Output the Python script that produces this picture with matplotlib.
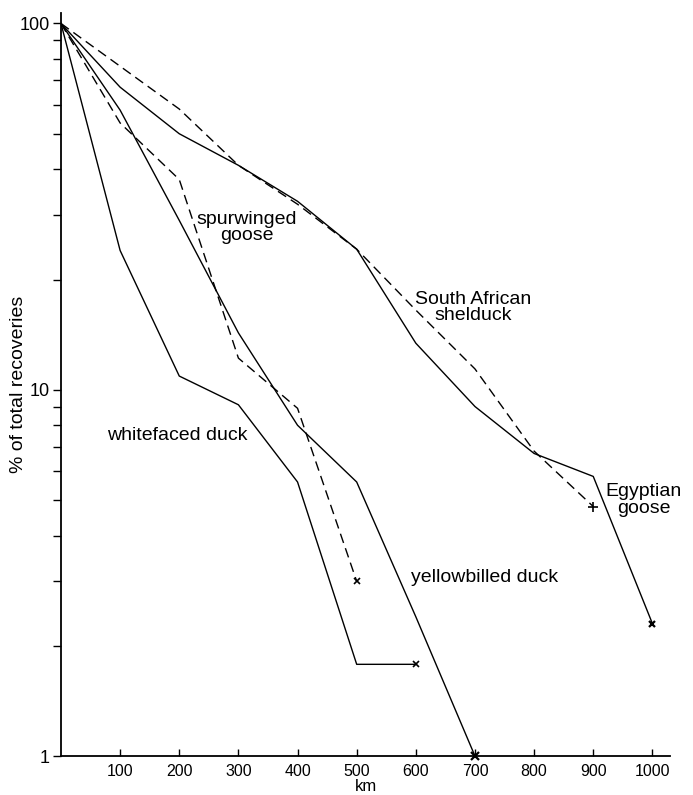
import matplotlib
matplotlib.use("Agg")
import matplotlib.pyplot as plt
from matplotlib.ticker import LogLocator, NullFormatter, FixedLocator

plt.rcParams["font.family"] = ["Liberation Sans", "DejaVu Sans"]

# distance classes (km) and % of total recoveries
whitefaced_km = [0, 100, 200, 300, 400, 500, 600]
whitefaced_pct = [100, 24, 10.9, 9.1, 5.6, 1.78, 1.78]

yellowbilled_km = [0, 100, 200, 300, 400, 500, 600, 700]
yellowbilled_pct = [100, 58, 29, 14.3, 8.0, 5.6, 2.4, 1.0]

spurwinged_km = [0, 100, 200, 300, 400, 500]
spurwinged_pct = [100, 53.5, 37.5, 12.2, 8.9, 3.0]

egyptian_km = [0, 100, 200, 300, 400, 500, 600, 700, 800, 900, 1000]
egyptian_pct = [100, 67, 50, 41, 32.7, 24.2, 13.4, 9.0, 6.7, 5.8, 2.3]

shelduck_km = [0, 200, 300, 400, 500, 600, 700, 800, 900]
shelduck_pct = [100, 58.4, 41, 32.1, 24.2, 16.5, 11.4, 6.8, 4.8]

xticks = [100, 200, 300, 400, 500, 600, 700, 800, 900, 1000]

fig = plt.figure(figsize=(6.93, 7.95), dpi=100)
ax = fig.add_axes([0.088, 0.049, 0.879, 0.935])

dash = (0, (7, 4))
ax.plot(whitefaced_km, whitefaced_pct, color="black", lw=1.0)
ax.plot(whitefaced_km[-1:], whitefaced_pct[-1:], "x", color="black", ms=5, mew=1.2)
ax.plot(yellowbilled_km, yellowbilled_pct, color="black", lw=1.0)
ax.plot(yellowbilled_km[-1:], yellowbilled_pct[-1:], "x", color="black", ms=6, mew=1.6,
        clip_on=False)
ax.plot(spurwinged_km, spurwinged_pct, color="black", lw=1.0, linestyle=dash)
ax.plot(spurwinged_km[-1:], spurwinged_pct[-1:], "x", color="black", ms=5, mew=1.2)
ax.plot(egyptian_km, egyptian_pct, color="black", lw=1.0)
ax.plot(egyptian_km[-1:], egyptian_pct[-1:], "x", color="black", ms=5, mew=1.6)
ax.plot(shelduck_km, shelduck_pct, color="black", lw=1.0, linestyle=dash)
ax.plot(shelduck_km[-1:], shelduck_pct[-1:], "+", color="black", ms=7, mew=1.2)

fs = 14
ax.text(314, 27.7, "spurwinged\ngoose", ha="center", va="center", fontsize=fs,
        linespacing=0.95)
ax.text(697, 16.8, "South African\nshelduck", ha="center", va="center", fontsize=fs,
        linespacing=0.95)
ax.text(196, 7.48, "whitefaced duck", ha="center", va="center", fontsize=fs)
ax.text(716, 3.08, "yellowbilled duck", ha="center", va="center", fontsize=fs)
ax.text(985, 5.0, "Egyptian\ngoose", ha="center", va="center", fontsize=fs,
        linespacing=0.95)

ax.set_yscale("log")
ax.set_xlim(0, 1030)
ax.set_ylim(1, 107)
ax.set_yticks([1, 10, 100])
ax.set_yticklabels(["1", "10", "100"], fontsize=13)
ax.yaxis.set_minor_locator(LogLocator(base=10, subs=range(2, 10)))
ax.yaxis.set_minor_formatter(NullFormatter())
ax.xaxis.set_major_locator(FixedLocator(xticks))
ax.set_xticklabels([str(v) for v in xticks], fontsize=11.5)
ax.tick_params(axis="y", which="major", direction="out", length=6, width=1, pad=2)
ax.tick_params(axis="y", which="minor", direction="out", length=6, width=1)
ax.tick_params(axis="x", direction="in", length=5, width=1, pad=6)

for side in ["top", "right"]:
    ax.spines[side].set_visible(False)
ax.spines["left"].set_linewidth(1.3)
ax.spines["bottom"].set_linewidth(1.3)

ax.set_xlabel("km", fontsize=12, labelpad=0)
ax.set_ylabel("% of total recoveries", fontsize=14)
ax.yaxis.set_label_coords(-0.056, 0.5)

fig.savefig("out.png", dpi=100)
